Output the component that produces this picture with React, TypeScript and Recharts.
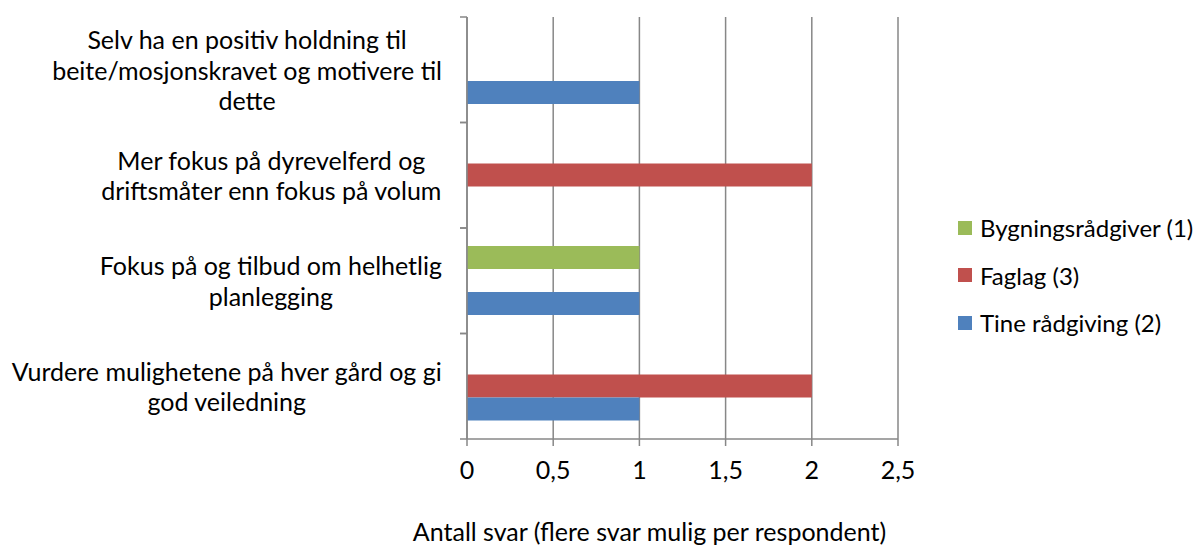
import React from 'react'
import { BarChart, Bar, XAxis, YAxis, CartesianGrid, Legend } from 'recharts'

// categories, top to bottom, with the line breaks used in the picture
const categoryLines = [
  ['Selv ha en positiv holdning til', 'beite/mosjonskravet og motivere til', 'dette'],
  ['Mer fokus på dyrevelferd og', 'driftsmåter enn fokus på volum'],
  ['Fokus på og tilbud om helhetlig', 'planlegging'],
  ['Vurdere mulighetene på hver gård og gi', 'god veiledning'],
]
const categories = categoryLines.map(l => l.join(' '))

const tine = [1, 0, 1, 1]
const faglag = [0, 2, 0, 2]
const bygning = [0, 0, 1, 0]

const xTicks = [0, 0.5, 1, 1.5, 2, 2.5]
const xLabel = 'Antall svar (flere svar mulig per respondent)'

const data = categories.map((name, i) => ({ name, tine: tine[i], faglag: faglag[i], bygning: bygning[i] }))

const FONT = 'Lato'
const FS = 25
const GRID = '#878787'

let ctx: CanvasRenderingContext2D | null = null
function textWidth(s: string) {
  if (!ctx) ctx = document.createElement('canvas').getContext('2d')
  if (!ctx) return s.length * FS * 0.5
  ctx.font = `${FS}px ${FONT}`
  return ctx.measureText(s).width
}

function CatTick(props: any) {
  const { x, y, payload } = props
  const idx = categories.indexOf(payload.value)
  const lines = idx >= 0 ? categoryLines[idx] : [String(payload.value)]
  const half = payload.offset || 52.75
  const w = Math.max(...lines.map(textWidth))
  const cx = x - 25 - w / 2
  const lh = 30.5
  const y0 = y + 1 - ((lines.length - 1) * lh) / 2
  return (
    <g>
      <line x1={x - 7} x2={x} y1={y - half} y2={y - half} stroke={GRID} strokeWidth={1.5} />
      <line x1={x - 7} x2={x} y1={y + half} y2={y + half} stroke={GRID} strokeWidth={1.5} />
      <text textAnchor="middle" fontFamily={FONT} fontSize={FS} fill="#000">
        {lines.map((l, i) => (
          <tspan key={i} x={cx} y={y0 + i * lh} dy="0.35em">{l}</tspan>
        ))}
      </text>
    </g>
  )
}

function LegendBox(props: any) {
  const items = props.payload || []
  return (
    <div style={{ fontFamily: FONT, fontSize: FS - 1, color: '#000', whiteSpace: 'nowrap' }}>
      {items.map((it: any) => (
        <div key={it.value} style={{ height: 47.5, display: 'flex', alignItems: 'center' }}>
          <span style={{ width: 14, height: 14, background: it.color, marginRight: 8, display: 'inline-block' }} />
          <span>{it.value}</span>
        </div>
      ))}
    </div>
  )
}

export default function App() {
  return (
    <div style={{ position: 'absolute', left: 0, top: 0, width: 1202, height: 545, background: '#fff' }}>
      <BarChart
        width={1202}
        height={545}
        data={data}
        layout="vertical"
        margin={{ top: 17, right: 304, bottom: 0, left: 0 }}
        barSize={23}
        barGap={0}
      >
        <CartesianGrid horizontal={false} stroke={GRID} strokeWidth={1.5} />
        <XAxis
          type="number"
          domain={[0, 2.5]}
          ticks={xTicks}
          height={106}
          tickSize={7}
          tickMargin={15}
          stroke={GRID}
          strokeWidth={1.5}
          tick={{ fill: '#000', fontFamily: FONT, fontSize: FS }}
          tickFormatter={(v: number) => String(v).replace('.', ',')}
          label={{ value: xLabel, position: 'insideBottom', offset: 4, dx: -33, fill: '#000', fontFamily: FONT, fontSize: FS }}
        />
        <YAxis
          type="category"
          dataKey="name"
          width={467}
          tickSize={0}
          tickMargin={0}
          tickLine={false}
          stroke={GRID}
          strokeWidth={1.5}
          interval={0}
          tick={<CatTick />}
        />
        <Legend
          layout="horizontal"
          verticalAlign="middle"
          align="center"
          content={<LegendBox />}
          wrapperStyle={{ left: 958, top: 204, width: 244, height: 145 }}
        />
        <Bar dataKey="bygning" name="Bygningsrådgiver (1)" fill="#9BBB59" isAnimationActive={false} />
        <Bar dataKey="faglag" name="Faglag (3)" fill="#C0504D" isAnimationActive={false} />
        <Bar dataKey="tine" name="Tine rådgiving (2)" fill="#4F81BD" isAnimationActive={false} />
      </BarChart>
    </div>
  )
}
